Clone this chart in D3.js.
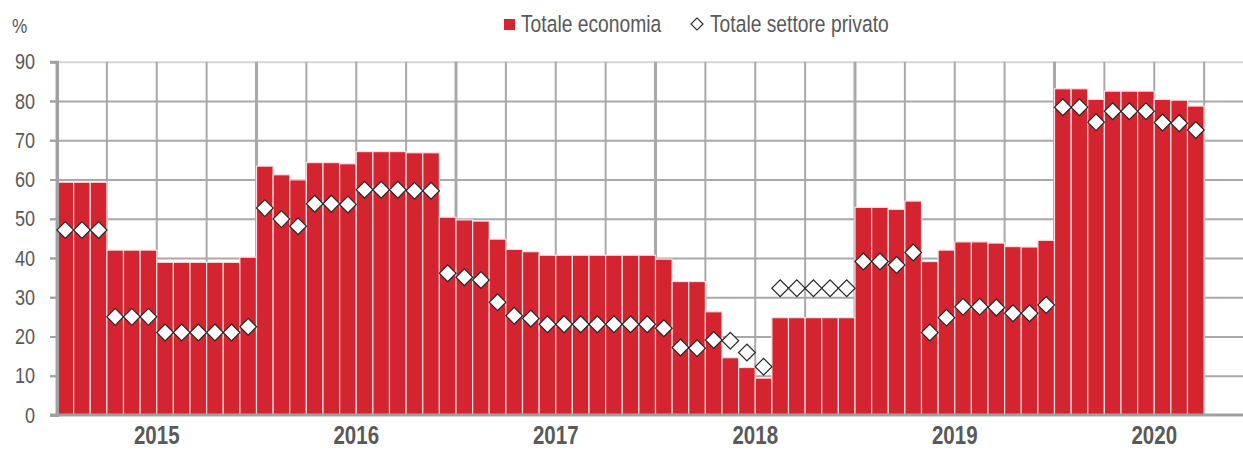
<body style="margin:0;background:#fff"></body>

<script src='https://d3js.org/d3.v7.min.js'></script>
<script>
    // monthly values, Jan 2015 - Sep 2020
    const years = ["2015", "2016", "2017", "2018", "2019", "2020"];
    const economia = [
        59.3, 59.3, 59.3, 42.0, 42.0, 42.0, 38.9, 38.9, 38.9, 38.9, 38.9, 40.2,
        63.4, 61.2, 59.9, 64.3, 64.3, 64.0, 67.1, 67.1, 67.1, 66.8, 66.8, 50.4,
        49.7, 49.4, 44.8, 42.2, 41.6, 40.7, 40.7, 40.7, 40.7, 40.7, 40.7, 40.7,
        39.7, 34.0, 34.0, 26.3, 14.6, 12.1, 9.4, 24.8, 24.8, 24.8, 24.8, 24.8,
        52.9, 52.9, 52.4, 54.5, 39.1, 42.0, 44.1, 44.1, 43.8, 42.9, 42.8, 44.5,
        83.1, 83.1, 80.4, 82.5, 82.5, 82.5, 80.4, 80.2, 78.7
    ];
    const privato = [
        47.1, 47.1, 47.1, 25.0, 25.0, 25.0, 21.0, 21.0, 21.0, 21.0, 21.0, 22.5,
        52.7, 49.9, 48.1, 53.8, 53.8, 53.6, 57.4, 57.4, 57.4, 57.1, 57.1, 36.1,
        35.1, 34.4, 28.7, 25.3, 24.6, 23.1, 23.1, 23.1, 23.1, 23.1, 23.1, 23.1,
        22.1, 17.2, 17.0, 19.1, 18.9, 15.9, 12.3, 32.3, 32.3, 32.3, 32.3, 32.3,
        39.1, 39.1, 38.2, 41.4, 21.0, 24.8, 27.6, 27.6, 27.4, 25.9, 25.9, 28.0,
        78.4, 78.4, 74.6, 77.4, 77.4, 77.4, 74.5, 74.3, 72.6
    ];
    const yTicks = [0, 10, 20, 30, 40, 50, 60, 70, 80, 90];
    const legendLabels = ["Totale economia", "Totale settore privato"];

    const width = 1243, height = 450;
    const plotLeft = 57, plotRight = 1243, plotTop = 61.7, plotBottom = 415;
    const step = 16.625;
    const font = "'Liberation Sans', Arial, sans-serif";
    const squeeze = 0.82; // no narrow font installed, so squash Liberation Sans
    const textCol = "#595959";
    const red = "#d42430";
    const grid = "#a9a9a9";

    const months = d3.range(economia.length);
    var x = d3.scaleBand()
        .domain(months)
        .range([plotLeft, plotLeft + step * months.length])
        .padding(0);
    var y = d3.scaleLinear()
        .domain([0, 90])
        .range([plotBottom, plotTop]);

    var svg = d3.select("body")
        .append("svg")
        .attr("width", width)
        .attr("height", height)
        .style("font-family", font);

    function narrowText(sel, tx, ty) {
        return sel.attr("x", 0).attr("y", 0)
            .attr("transform", "translate(" + tx + "," + ty + ") scale(" + squeeze + ",1)");
    }

    // horizontal grid
    svg.append("g")
        .attr("transform", "translate(50,0)")
        .call(d3.axisRight(y).tickValues(yTicks.slice(1)).tickSize(plotRight - 50).tickFormat(""))
        .call(g => g.select(".domain").remove())
        .call(g => g.selectAll(".tick line")
            .attr("stroke", d => d === 90 ? "#d6d6d6" : grid)
            .attr("stroke-width", 2));

    // vertical grid: quarters, thicker at years
    const vlines = months.filter(i => i % 3 === 0).map(i => ({ x: x(i), year: i % 12 === 0 }));
    vlines.push({ x: x.range()[1], year: false });
    svg.append("g").selectAll("line")
        .data(vlines)
        .enter()
        .append("line")
        .attr("x1", d => d.x).attr("x2", d => d.x)
        .attr("y1", plotTop).attr("y2", plotBottom)
        .attr("stroke", grid)
        .attr("stroke-width", d => d.year ? 3 : 2);

    // bars
    svg.append("g").selectAll("rect")
        .data(economia)
        .enter()
        .append("rect")
        .attr("x", (d, i) => x(i))
        .attr("y", d => y(d))
        .attr("width", x.bandwidth())
        .attr("height", d => y(0) - y(d))
        .attr("fill", red)
        .attr("stroke", "#f7dfe1")
        .attr("stroke-width", 1.2);

    // y axis labels + ticks
    svg.append("g")
        .attr("transform", "translate(" + plotLeft + ",0)")
        .call(d3.axisLeft(y).tickValues(yTicks).tickSize(7))
        .call(g => g.select(".domain").attr("stroke", "#a0a0a0").attr("stroke-width", 3))
        .call(g => g.selectAll(".tick line").attr("stroke", "#a0a0a0").attr("stroke-width", 2))
        .call(g => g.selectAll(".tick text")
            .attr("fill", textCol)
            .style("font-size", "22px")
            .style("font-family", font)
            .call(t => narrowText(t, -22, 0)));

    // base line
    svg.append("line")
        .attr("x1", 50).attr("x2", plotRight)
        .attr("y1", y(0)).attr("y2", y(0))
        .attr("stroke", "#a0a0a0")
        .attr("stroke-width", 3);

    // diamonds
    const diamond = d3.symbol().type(d3.symbolSquare).size(140);
    svg.append("g").selectAll("path")
        .data(privato)
        .enter()
        .append("path")
        .attr("d", diamond)
        .attr("transform", (d, i) => "translate(" + (x(i) + x.bandwidth() / 2) + "," + y(d) + ") rotate(45)")
        .attr("fill", "#fff")
        .attr("stroke", "#262626")
        .attr("stroke-width", 1.2);

    // year labels
    svg.append("g").selectAll("text")
        .data(years)
        .enter()
        .append("text")
        .attr("text-anchor", "middle")
        .attr("fill", textCol)
        .style("font-size", "25px")
        .style("font-weight", "bold")
        .text(d => d)
        .each(function (d, i) {
            narrowText(d3.select(this), plotLeft + step * (12 * i + 6), 444);
        });

    // unit
    svg.append("text")
        .attr("fill", textCol)
        .style("font-size", "21px")
        .text("%")
        .call(t => narrowText(t, 12, 33));

    // legend
    svg.append("rect")
        .attr("x", 504).attr("y", 19)
        .attr("width", 11).attr("height", 11)
        .attr("fill", red);
    svg.append("text")
        .attr("fill", textCol)
        .style("font-size", "23.5px")
        .text(legendLabels[0])
        .call(t => narrowText(t, 521, 32));
    svg.append("path")
        .attr("d", d3.symbol().type(d3.symbolSquare).size(72))
        .attr("transform", "translate(697,24) rotate(45)")
        .attr("fill", "#fff")
        .attr("stroke", "#262626")
        .attr("stroke-width", 1.2);
    svg.append("text")
        .attr("fill", textCol)
        .style("font-size", "23.5px")
        .text(legendLabels[1])
        .call(t => narrowText(t, 710, 32));
</script>
